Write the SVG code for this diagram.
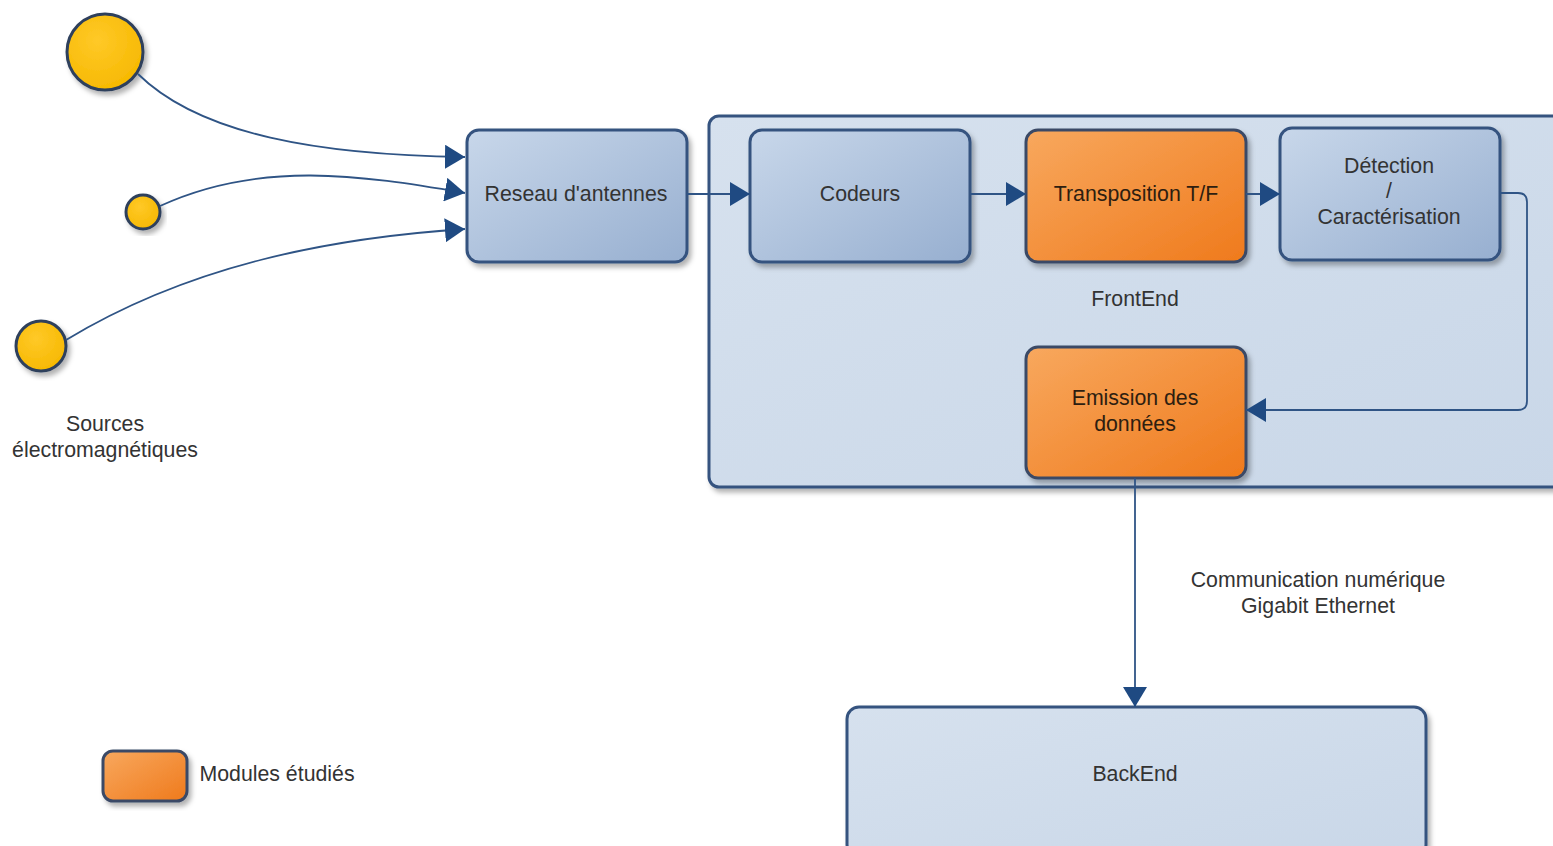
<svg xmlns="http://www.w3.org/2000/svg" width="1553" height="846" viewBox="0 0 1553 846">
<style>
text{font-family:"Liberation Sans",Arial,sans-serif;font-size:21.3px;fill:#333;text-anchor:middle}
.blue{fill:url(#gBlue);stroke:#34527f;stroke-width:3}
.orange{fill:url(#gOrange);stroke:#3b4a66;stroke-width:3}
.light{fill:url(#gLight);stroke:#34527f;stroke-width:3}
.sun{fill:url(#gSun);stroke:#2e3f5c;stroke-width:3}
.conn{fill:none;stroke:#2f5485;stroke-width:1.8}
.ot{fill:#2e1e10}
</style>
<defs>
<linearGradient id="gBlue" x1="0" y1="0" x2="1" y2="1"><stop offset="0" stop-color="#c8d7ea"/><stop offset="1" stop-color="#97afd0"/></linearGradient>
<linearGradient id="gOrange" x1="0" y1="0" x2="1" y2="1"><stop offset="0" stop-color="#f8a85e"/><stop offset="1" stop-color="#ef7a1c"/></linearGradient>
<linearGradient id="gLight" x1="0" y1="0" x2="1" y2="1"><stop offset="0" stop-color="#d6e1ee"/><stop offset="1" stop-color="#c9d7e8"/></linearGradient>
<radialGradient id="gSun" cx="0.4" cy="0.35" r="0.7"><stop offset="0" stop-color="#ffc928"/><stop offset="1" stop-color="#f6b800"/></radialGradient>
<filter id="sh" x="-10%" y="-10%" width="130%" height="130%"><feDropShadow dx="3" dy="4" stdDeviation="2.5" flood-color="#000" flood-opacity="0.3"/></filter>
<marker id="arr" viewBox="0 0 20 24" refX="20" refY="12" markerWidth="20" markerHeight="24" markerUnits="userSpaceOnUse" orient="auto"><path d="M0 0 L20 12 L0 24 Z" fill="#1f4a82"/></marker>
</defs>

<g id="frontend">
<rect class="light" x="709" y="116" width="860" height="371" rx="10" filter="url(#sh)"/>
<text x="1135" y="306">FrontEnd</text>
</g>

<g id="src1"><circle class="sun" cx="105" cy="52" r="38" filter="url(#sh)"/></g>
<g id="src2"><circle class="sun" cx="143" cy="212" r="17" filter="url(#sh)"/></g>
<g id="src3"><circle class="sun" cx="41" cy="346" r="25" filter="url(#sh)"/></g>
<g id="src-label"><text x="105" y="431">Sources</text><text x="105" y="457">électromagnétiques</text></g>

<g id="reseau"><rect class="blue" x="467" y="130" width="220" height="132" rx="12" filter="url(#sh)"/><text x="576" y="201">Reseau d'antennes</text></g>
<g id="codeurs"><rect class="blue" x="750" y="130" width="220" height="132" rx="12" filter="url(#sh)"/><text x="860" y="201">Codeurs</text></g>
<g id="transposition"><rect class="orange" x="1026" y="130" width="220" height="132" rx="12" filter="url(#sh)"/><text class="ot" x="1136" y="201">Transposition T/F</text></g>
<g id="detection"><rect class="blue" x="1280" y="128" width="220" height="132" rx="12" filter="url(#sh)"/><text x="1389" y="173">Détection</text><text x="1389" y="198">/</text><text x="1389" y="224">Caractérisation</text></g>
<g id="emission"><rect class="orange" x="1026" y="347" width="220" height="131" rx="12" filter="url(#sh)"/><text class="ot" x="1135" y="405">Emission des</text><text class="ot" x="1135" y="431">données</text></g>
<g id="backend"><rect class="light" x="847" y="707" width="579" height="150" rx="12" filter="url(#sh)"/><text x="1135" y="781">BackEnd</text></g>
<g id="legend"><rect class="orange" x="103" y="751" width="84" height="50" rx="10" filter="url(#sh)"/><text x="277" y="781">Modules étudiés</text></g>

<g id="connectors">
<path class="conn" d="M138 74 C200 135 320 155 465 157" marker-end="url(#arr)"/>
<path class="conn" d="M160 206 C260 160 360 175 465 193" marker-end="url(#arr)"/>
<path class="conn" d="M66 340 C190 265 330 238 465 229" marker-end="url(#arr)"/>
<path class="conn" d="M687 194 L750 194" marker-end="url(#arr)"/>
<path class="conn" d="M970 194 L1026 194" marker-end="url(#arr)"/>
<path class="conn" d="M1246 194 L1280 194" marker-end="url(#arr)"/>
<path class="conn" d="M1500 193 L1518 193 Q1527 193 1527 202 L1527 401 Q1527 410 1518 410 L1246 410" marker-end="url(#arr)"/>
<path class="conn" d="M1135 478 L1135 707" marker-end="url(#arr)"/>
<text x="1318" y="587">Communication numérique</text>
<text x="1318" y="613">Gigabit Ethernet</text>
</g>
</svg>
